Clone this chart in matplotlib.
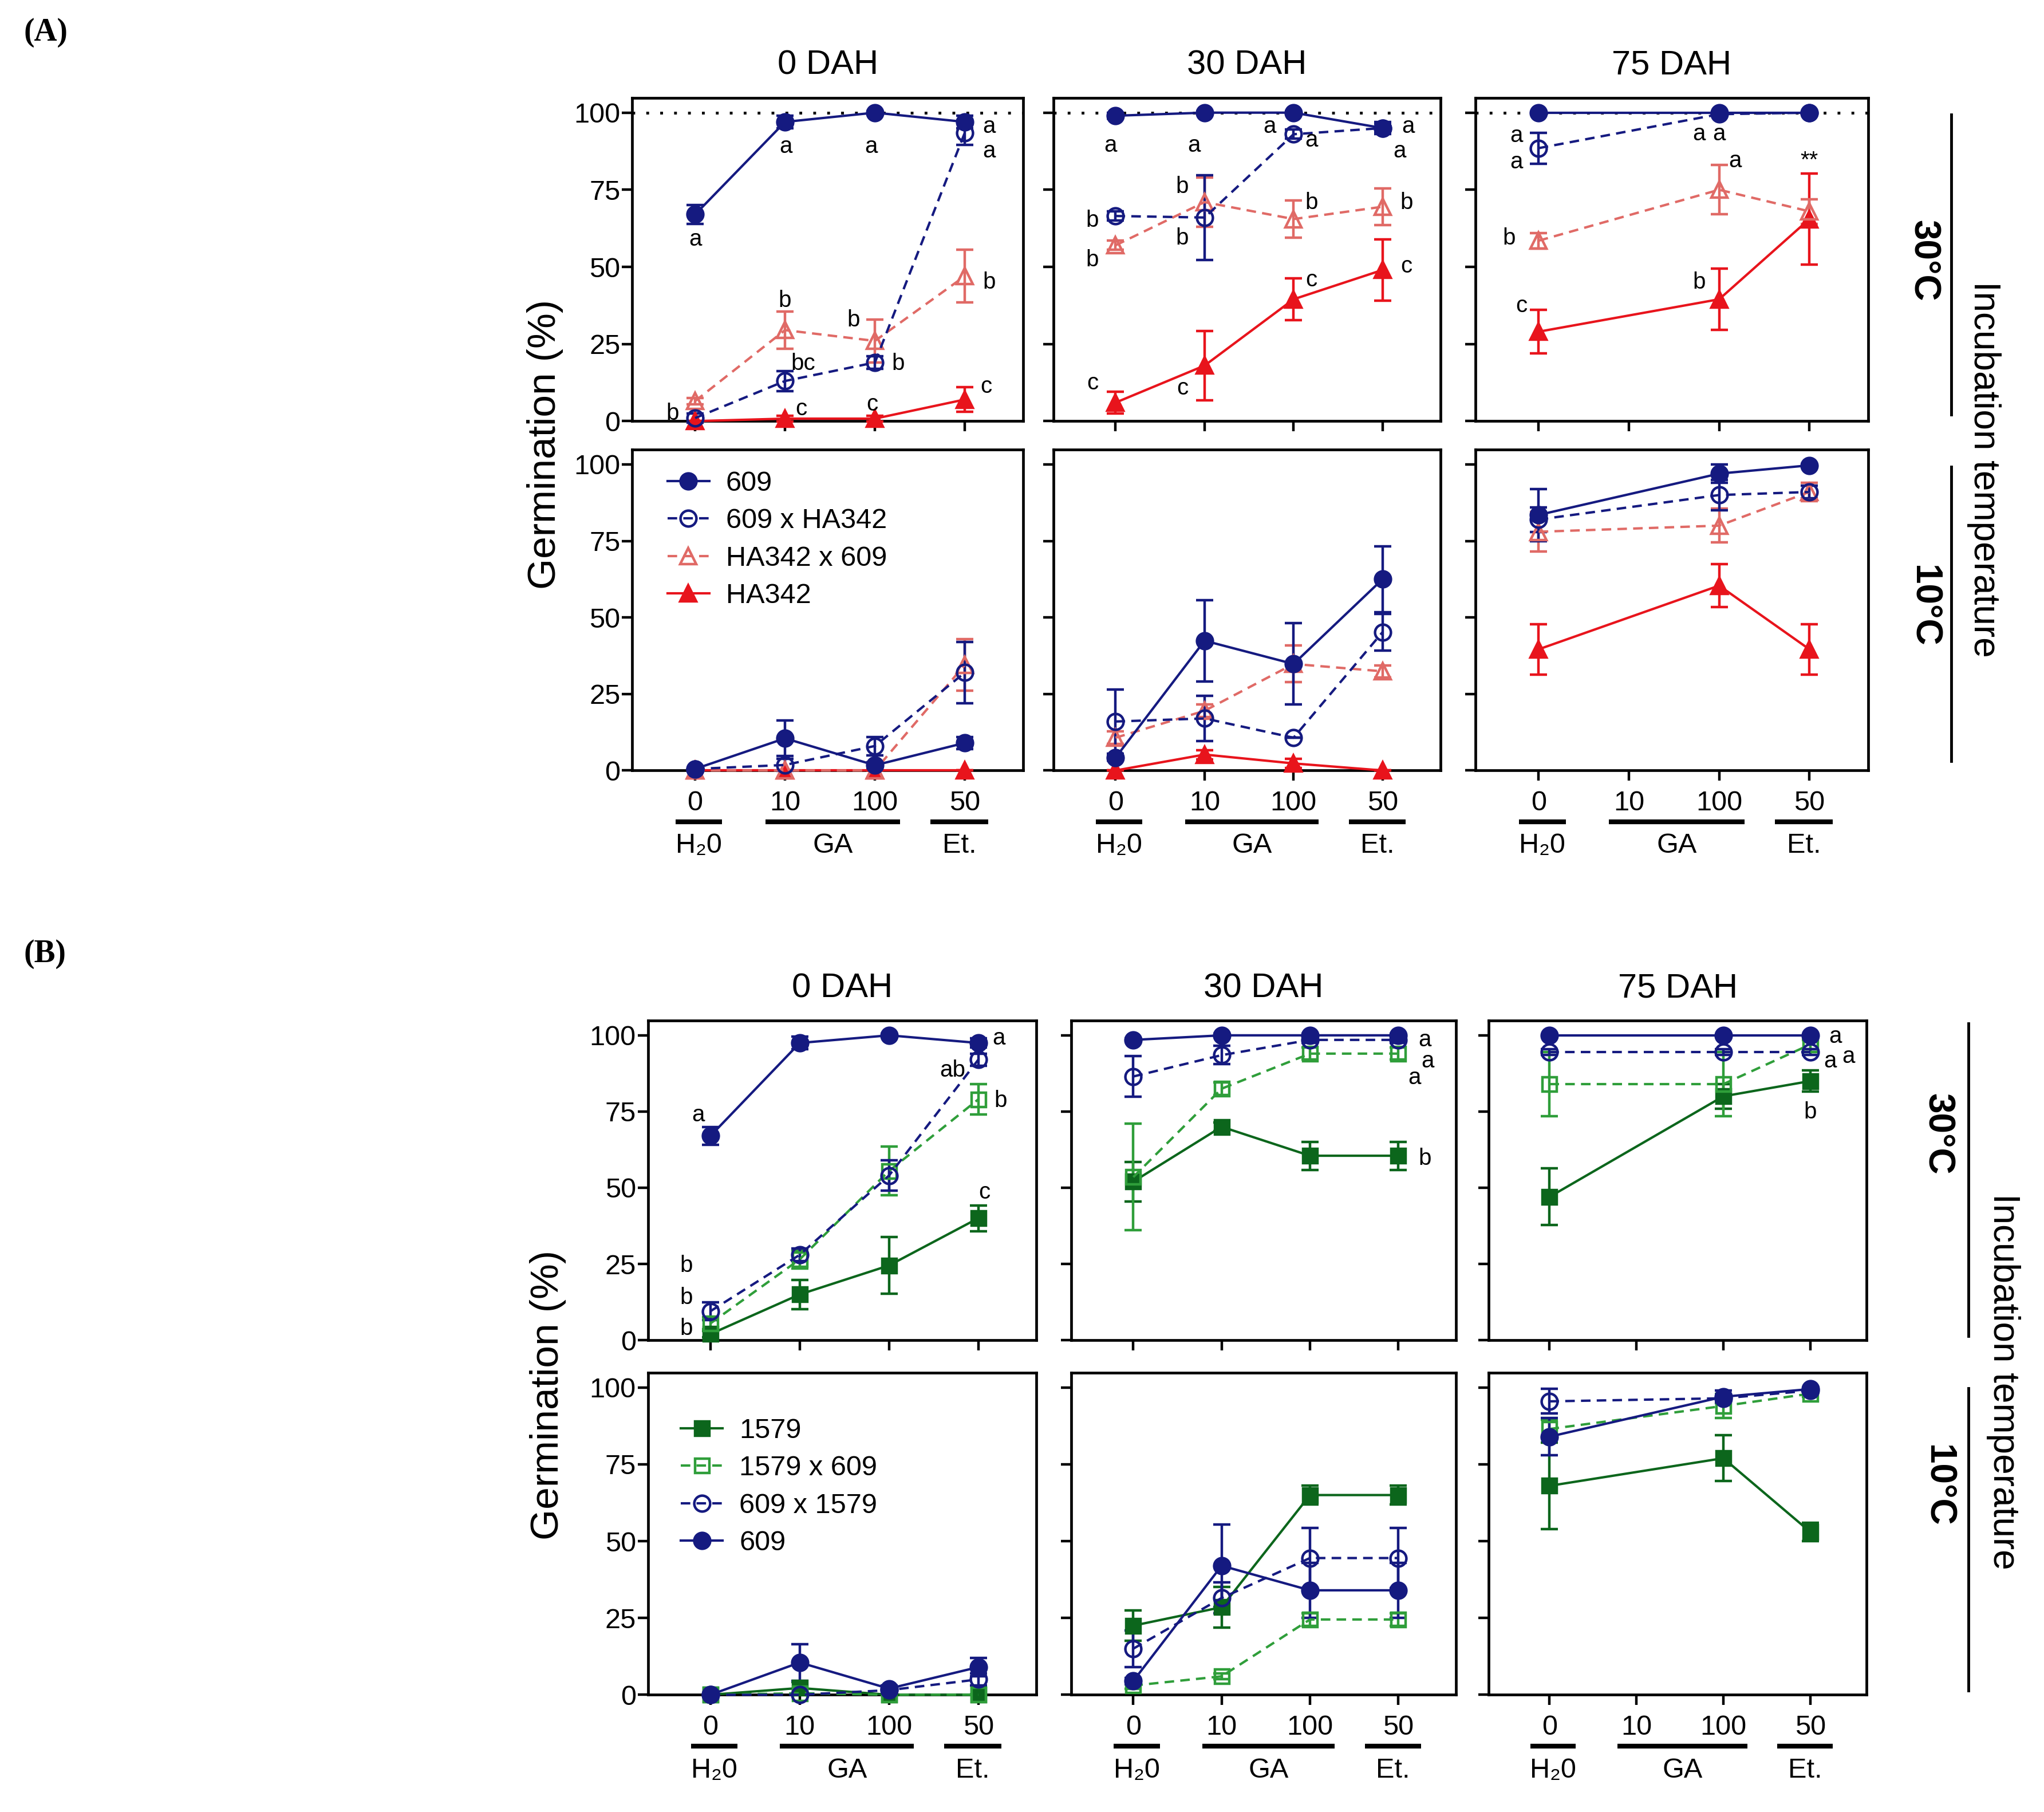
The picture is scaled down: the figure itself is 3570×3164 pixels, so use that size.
import numpy as np
import matplotlib.pyplot as plt
from matplotlib.lines import Line2D

plt.rcParams['font.family'] = ['Liberation Sans', 'DejaVu Sans']

nan = np.nan
dah_labels = ["0 DAH", "30 DAH", "75 DAH"]
dose_labels = ["0", "10", "100", "50"]
group_labels = ["H₂0", "GA", "Et."]
temp_labels = ["30°C", "10°C"]

# rows = 0 / 30 / 75 DAH, columns = H2O 0, GA 10, GA 100, Et. 50
# ---- panel A, 30 C
a30_609 = [[67, 97, 100, 97], [99, 100, 100, 95], [100, nan, 100, 100]]
a30_609_err = [[3, 2, 0.5, 2], [1, 0.5, 0.5, 2], [0, nan, 0, 0]]
a30_609xHA = [[1, 13, 19, 93.5], [66.5, 66, 93, 95], [88.5, nan, 99.5, 100]]
a30_609xHA_err = [[1.5, 3.3, 2, 4], [1.5, 13.8, 1.5, 1.5], [5, nan, 0, 0]]
a30_HAx609 = [[6.5, 29.5, 26, 47], [57, 71, 65.5, 69.5], [58.5, nan, 75, 68]]
a30_HAx609_err = [[1, 6, 7, 8.5], [1.5, 8, 6, 6], [2.5, nan, 8, 4]]
a30_HA = [[0, 0.8, 0.8, 7], [6, 18, 39.5, 49], [29, nan, 39.5, 65.5]]
a30_HA_err = [[0, 1, 1, 4], [3.5, 11.3, 6.8, 10], [7, nan, 10, 14.8]]
# ---- panel A, 10 C
a10_609 = [[0.5, 10.5, 1.7, 9], [4.2, 42.4, 34.8, 62.5], [83.5, nan, 97, 99.7]]
a10_609_err = [[0, 5.8, 1, 2], [1, 13.3, 13.3, 10.8], [8.5, nan, 3, 0.5]]
a10_609xHA = [[0.5, 1.8, 8, 32], [16, 17, 10.7, 45.2], [82, nan, 90, 91]]
a10_609xHA_err = [[0, 2, 3, 10], [10.5, 7.4, 0, 6], [4, nan, 5, 2]]
a10_HAx609 = [[0, 0, 0, 34.5], [10.7, 19.5, 34.8, 32.4], [78, nan, 80, 91]]
a10_HAx609_err = [[0, 0, 0, 8.5], [2, 2, 6, 2], [6.5, nan, 5.5, 3]]
a10_HA = [[0, 0, 0, 0], [0, 5.2, 2.3, 0], [39.6, nan, 60.4, 39.6]]
a10_HA_err = [[0, 0, 0, 0], [0, 1.5, 1.5, 0], [8.2, nan, 7, 8.2]]
# ---- panel B, 30 C
b30_1579 = [[2, 15, 24.5, 40], [52, 70, 60.5, 60.5], [47, nan, 80, 85]]
b30_1579_err = [[1, 4.8, 9.3, 4.2], [6.5, 1.5, 4.6, 4.6], [9.3, nan, 4, 3.5]]
b30_1579x609 = [[5.5, 26.5, 55.5, 79], [53.5, 82.5, 94, 94], [84, nan, 84, 97]]
b30_1579x609_err = [[2, 3, 8, 5], [17.5, 2, 2, 2], [10.5, nan, 10.5, 1.5]]
b30_609x1579 = [[9.5, 28, 54, 92], [86.5, 93.5, 98.5, 98.5], [94.5, nan, 94.5, 94.5]]
b30_609x1579_err = [[3, 2, 5, 2], [6.7, 3, 1, 1], [1, nan, 1, 1]]
b30_609 = [[67, 97.5, 100, 97.5], [98.5, 100, 100, 100], [100, nan, 100, 100]]
b30_609_err = [[3, 2, 0.5, 1.5], [0.5, 0.5, 0.5, 0.5], [0, nan, 0, 0]]
# ---- panel B, 10 C
b10_1579 = [[0, 2.2, 0, 0], [22.5, 28.5, 65, 65], [68, nan, 77, 53]]
b10_1579_err = [[0, 2, 0, 0], [5, 6.6, 3, 3], [14, nan, 7.5, 3]]
b10_1579x609 = [[0, 0.5, 0, 0], [3, 6, 24.5, 24.5], [86.5, nan, 94, 98]]
b10_1579x609_err = [[0, 0, 0, 0], [1, 1, 2, 2], [3, nan, 4, 1]]
b10_609x1579 = [[0, 0, 1.5, 5], [15, 31.5, 44.5, 44.5], [95.5, nan, 96.5, 99]]
b10_609x1579_err = [[0, 0, 0, 2], [6, 5, 9.8, 9.8], [4, nan, 1, 0.5]]
b10_609 = [[0, 10.5, 2, 9], [4.5, 42, 34, 34], [84, nan, 97, 99.5]]
b10_609_err = [[0, 6, 1, 3], [1, 13.4, 9, 9], [6, nan, 2, 0.5]]

# significance letters (text, x, y) for the 30 C row, one list per DAH
a_letters = [
    [("a", 0.0, 59), ("a", 1.01, 89), ("a", 1.96, 89), ("a", 3.27, 95.5), ("a", 3.27, 87.5),
     ("b", 1.0, 39), ("bc", 1.2, 18.7), ("b", 1.76, 32.8), ("b", 2.26, 18.7),
     ("b", 3.27, 45), ("c", 1.18, 4), ("c", 1.97, 5.4), ("c", 3.24, 11.2), ("b", -0.25, 2.5)],
    [("a", -0.06, 89.3), ("a", 0.88, 89.3), ("a", 1.73, 95.5), ("a", 2.2, 91),
     ("a", 3.29, 95.5), ("a", 3.19, 87.5), ("b", -0.26, 65), ("b", -0.26, 52.3),
     ("b", 0.75, 76), ("b", 0.75, 59.3), ("b", 2.2, 70.8), ("b", 3.27, 70.8),
     ("c", -0.26, 12.3), ("c", 0.75, 10.7), ("c", 2.2, 45.7), ("c", 3.27, 50.2)],
    [("a", -0.25, 92.5), ("a", -0.25, 84), ("b", -0.33, 59.3), ("c", -0.19, 37.4),
     ("a", 1.78, 93), ("a", 2.0, 93), ("a", 2.18, 84.4), ("b", 1.78, 44.9),
     ("**", 3.0, 84.5)],
]
b_letters = [
    [("a", -0.14, 73.8), ("a", 3.23, 99), ("ab", 2.71, 88.6), ("b", 3.25, 78.5),
     ("c", 3.07, 48.5), ("b", -0.27, 24.5), ("b", -0.27, 13.9), ("b", -0.27, 3.8)],
    [("a", 3.3, 98.5), ("a", 3.33, 91.5), ("a", 3.18, 86), ("b", 3.3, 59.6)],
    [("a", 3.29, 99.5), ("a", 3.23, 91.5), ("a", 3.44, 93), ("b", 3.0, 74.7)],
]

navy = "#151a80"
red = "#e8141c"
light_red = "#e06a66"
dark_green = "#0c661c"
light_green = "#2f9e3a"

solid = "-"
dashed = (0, (4, 2.6))

# label, color, marker, filled, linestyle
a_styles = [("HA342", red, "^", True, solid),
            ("HA342 x 609", light_red, "^", False, dashed),
            ("609 x HA342", navy, "o", False, dashed),
            ("609", navy, "o", True, solid)]
a_data30 = [(a30_HA, a30_HA_err), (a30_HAx609, a30_HAx609_err),
            (a30_609xHA, a30_609xHA_err), (a30_609, a30_609_err)]
a_data10 = [(a10_HA, a10_HA_err), (a10_HAx609, a10_HAx609_err),
            (a10_609xHA, a10_609xHA_err), (a10_609, a10_609_err)]
a_legend = [3, 2, 1, 0]

b_styles = [("1579", dark_green, "s", True, solid),
            ("1579 x 609", light_green, "s", False, dashed),
            ("609 x 1579", navy, "o", False, dashed),
            ("609", navy, "o", True, solid)]
b_data30 = [(b30_1579, b30_1579_err), (b30_1579x609, b30_1579x609_err),
            (b30_609x1579, b30_609x1579_err), (b30_609, b30_609_err)]
b_data10 = [(b10_1579, b10_1579_err), (b10_1579x609, b10_1579x609_err),
            (b10_609x1579, b10_609x1579_err), (b10_609, b10_609_err)]
b_legend = [0, 1, 2, 3]

TICK = 35
LW = 3.0
fig = plt.figure(figsize=(35.7, 31.64), dpi=100)


def msize(marker):
    return 18 if marker == "s" else 20


def draw_series(ax, means, errs, style):
    label, color, marker, filled, ls = style
    x = np.arange(4)
    y = np.array(means, dtype=float)
    e = np.array(errs, dtype=float)
    ok = ~np.isnan(y)
    ax.errorbar(x[ok], y[ok], yerr=e[ok], color=color, ls=ls, lw=LW,
                marker=marker, ms=msize(marker), mew=3.2,
                mfc=color if filled else "none", mec=color,
                elinewidth=3.2, capsize=11, capthick=3.2, clip_on=False, zorder=3)


def style_axes(ax, col, bottom):
    ax.set_xlim(-0.7, 3.65)
    ax.set_ylim(0, 104.8)
    ax.set_yticks([0, 25, 50, 75, 100])
    ax.set_xticks(range(4))
    for s in ax.spines.values():
        s.set_linewidth(3.4)
    ax.tick_params(direction="out", length=13, width=3.2, labelsize=TICK)
    ax.tick_params(axis="y", pad=2)
    ax.tick_params(axis="x", pad=12)
    if col > 0:
        ax.set_yticklabels([])
    if bottom:
        ax.set_xticklabels(dose_labels)
        tr = ax.get_xaxis_transform()
        spans = [(-0.22, 0.3), (0.78, 2.28), (2.62, 3.26)]
        for (x0, x1), g in zip(spans, group_labels):
            ax.plot([x0, x1], [-0.16, -0.16], color="k", lw=6,
                    transform=tr, clip_on=False, solid_capstyle="butt")
            ax.text((x0 + x1) / 2, -0.235, g, transform=tr, ha="center",
                    va="center", fontsize=TICK)
    else:
        ax.set_xticklabels([])


def draw_panel(lefts, widths, tops, heights, styles, data30, data10,
               letters, legend_order, legend_anchor, dotted):
    for r in range(2):
        data = data30 if r == 0 else data10
        for c in range(3):
            ax = fig.add_axes([lefts[c], tops[r] - heights[r], widths[c], heights[r]])
            style_axes(ax, c, r == 1)
            if r == 0:
                ax.text(0.5, 1.1, dah_labels[c], transform=ax.transAxes,
                        ha="center", va="center", fontsize=43)
                if dotted:
                    ax.axhline(100, color="k", ls=(0, (1, 4)), lw=3.5, zorder=1)
                for t, x, y in letters[c]:
                    ax.text(x, y, t, ha="center", va="center", fontsize=29, zorder=5)
            for (m, e), st in zip(data, styles):
                draw_series(ax, m[c], e[c], st)
            if r == 1 and c == 0:
                handles = []
                for i in legend_order:
                    label, color, marker, filled, ls = styles[i]
                    handles.append(Line2D([], [], color=color, ls=ls, lw=LW,
                                          marker=marker, ms=msize(marker), mew=3.2,
                                          mfc=color if filled else "none",
                                          mec=color, label=label))
                ax.legend(handles=handles, loc="upper left",
                          bbox_to_anchor=legend_anchor, frameon=False,
                          fontsize=TICK, handlelength=1.5, handletextpad=0.6,
                          labelspacing=0.42, borderaxespad=0, borderpad=0)


draw_panel([0.3093, 0.5153, 0.7219], [0.1913, 0.1894, 0.192],
           [0.946, 0.7518], [0.1784, 0.177],
           a_styles, a_data30, a_data10, a_letters, a_legend, (0.09, 0.935), True)
draw_panel([0.317, 0.5242, 0.7283], [0.190, 0.188, 0.185],
           [0.4367, 0.2424], [0.1763, 0.1777],
           b_styles, b_data30, b_data10, b_letters, b_legend, (0.085, 0.86), False)

# side labels
fig.text(0.2666, 0.7547, "Germination (%)", rotation=90, ha="center", va="center", fontsize=50)
fig.text(0.268, 0.2302, "Germination (%)", rotation=90, ha="center", va="center", fontsize=50)

for x_t, x_line, x_inc, y_inc, rows in [
        (0.941, 0.9547, 0.9707, 0.741, [(0.856, 0.9367, 0.7712), (0.6655, 0.7424, 0.5799)]),
        (0.948, 0.963, 0.980, 0.2374, [(0.374, 0.4353, 0.2626), (0.18, 0.2338, 0.0669)])]:
    for (yc, y0, y1), lab in zip(rows, temp_labels):
        fig.text(x_t, yc, lab, rotation=270, ha="center", va="center",
                 fontsize=46, fontweight="bold")
        fig.add_artist(Line2D([x_line, x_line], [y0, y1], color="k", lw=3.5,
                              transform=fig.transFigure))
    fig.text(x_inc, y_inc, "Incubation temperature", rotation=270,
             ha="center", va="center", fontsize=46)

fig.text(0.0115, 0.982, "(A)", ha="left", va="center", fontsize=40,
         fontweight="bold", family="Liberation Serif")
fig.text(0.0115, 0.4734, "(B)", ha="left", va="center", fontsize=40,
         fontweight="bold", family="Liberation Serif")

fig.savefig("out.png", dpi=100)
